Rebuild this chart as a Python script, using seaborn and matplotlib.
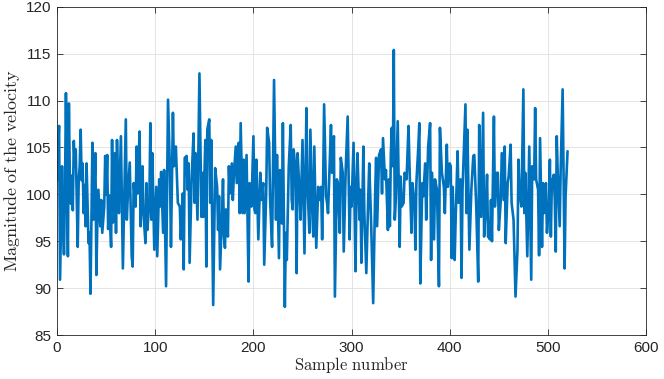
import matplotlib
matplotlib.use("Agg")
import matplotlib.pyplot as plt
import seaborn as sns
import pandas as pd

sample_number = [
    0, 1, 2, 3, 5, 6, 7, 8, 9, 10, 11, 12, 13, 14, 15, 16, 17, 18, 19, 20,
    21, 22, 23, 24, 25, 26, 27, 28, 29, 30, 32, 33, 34, 36, 37, 39, 40, 41, 42, 44,
    45, 46, 48, 49, 50, 51, 52, 53, 55, 56, 57, 59, 60, 61,
    62, 63, 65, 67, 70, 71, 72, 74, 76, 77, 78, 80, 81, 82, 84, 85, 87, 88, 90, 91,
    92, 94, 95, 96, 97, 99, 101, 102, 104, 105, 106, 108, 109, 111, 113, 115, 116, 118,
    119, 121, 123, 125, 126, 128, 129, 130, 132,
    133, 134, 135, 137, 139, 140, 141, 143, 145, 147, 148, 149, 151, 152, 153, 155,
    156, 157, 159, 161, 163, 164, 165, 166, 168, 169, 170, 171, 172, 174, 175, 176,
    178, 179, 180, 182, 183, 185, 186, 187, 189, 190, 191, 193, 195, 196, 198, 200, 201,
    202, 203, 205, 207, 208, 210, 211, 213, 214, 216, 217, 219, 221, 223, 224, 226,
    227, 229, 230, 232, 233, 234, 236, 238, 239, 240, 241, 243, 244, 245, 247, 248,
    250, 252, 254, 255, 257, 258, 260, 261, 262, 264, 266, 267, 269, 270,
    271, 272, 274, 275, 276, 279, 280, 282, 283, 285, 286, 288, 289, 291, 292, 294,
    296, 298, 299, 300, 302, 304, 305, 306, 308, 309, 310, 312, 313, 315, 317, 318,
    320, 322, 324, 325, 326, 328, 330, 331, 332, 334, 335, 337, 338,
    339, 340, 341, 342, 343, 344, 345, 347, 349, 350, 351, 353, 354, 356, 358, 359,
    361, 362, 364, 365, 366, 368, 369, 370, 372, 373, 375, 376, 378, 380, 381, 382,
    384, 385, 387, 389, 390, 392, 394, 395, 397, 398, 400, 401, 402, 403, 405, 406, 408,
    409, 411, 412, 413, 416, 417, 418, 420, 422, 424, 425, 427, 429, 430, 432, 434,
    435, 437, 438, 439, 441, 442, 443, 445, 446, 448, 449, 450, 452, 453, 455, 456,
    457, 459, 460, 462, 463, 465, 467, 469, 470, 471, 473, 475,
    476, 477, 479, 481, 483, 484, 486, 487, 488, 490, 491, 492, 494, 495, 496, 498,
    499, 501, 502, 503, 504, 506, 507, 508, 509, 510, 512, 513, 515, 516, 517, 518, 520,
]

velocity = [
    101.5, 105.0, 107.3, 90.9, 103.0, 97.0, 93.6, 100.0, 110.8, 101.0, 93.4, 109.7, 101.5, 99.0, 102.0, 98.3, 105.7, 103.0, 104.8, 99.5,
    94.4, 101.5, 103.0, 106.9, 101.5, 103.3, 98.0, 101.0, 96.6, 103.3, 94.8, 95.9, 89.4, 105.5, 97.3, 104.4, 91.4, 97.0, 100.5, 96.6,
    99.4, 95.9, 98.7, 104.1, 100.0, 104.2, 96.3, 99.9, 94.4, 105.8, 97.0, 104.4, 95.9, 105.8,
    101.6, 98.0, 106.2, 92.1, 108.0, 97.3, 99.8, 103.4, 93.4, 92.3, 101.2, 98.7, 105.1, 100.1, 106.7, 96.6, 103.0, 98.0, 94.8, 101.2,
    96.2, 99.4, 107.6, 97.3, 104.4, 94.1, 100.8, 93.4, 101.6, 98.7, 102.4, 95.9, 102.6, 90.2, 110.1, 102.3, 94.4, 108.7,
    103.0, 105.1, 99.1, 98.7, 95.2, 100.1, 92.0, 103.9, 104.1,
    100.5, 103.3, 92.7, 101.6, 106.5, 99.1, 104.4, 97.3, 112.9, 97.6, 102.3, 97.6, 105.8, 92.3, 106.9, 108.0,
    99.1, 105.8, 88.2, 102.8, 100.8, 96.2, 99.8, 92.0, 98.0, 101.6, 95.5, 94.3, 98.4, 95.5, 103.0, 100.1,
    103.3, 99.4, 101.9, 105.1, 101.2, 105.5, 98.0, 107.6, 98.0, 103.7, 98.0, 104.2, 90.7, 101.2, 98.7, 106.2, 98.4,
    98.0, 103.7, 95.2, 102.3, 99.4, 101.2, 92.5, 100.1, 107.1, 105.5, 99.4, 94.4, 112.2, 97.3, 104.2, 93.2,
    102.6, 96.9, 107.6, 88.0, 95.9, 93.0, 103.0, 107.4, 99.4, 98.4, 104.8, 102.3, 91.6, 104.4, 100.1, 97.3,
    105.8, 93.7, 109.2, 101.2, 95.9, 106.9, 98.0, 95.5, 105.1, 94.3, 100.8, 99.4, 100.8, 95.2,
    101.0, 109.6, 99.8, 99.1, 98.0, 107.4, 102.3, 106.2, 89.1, 101.6, 101.2, 95.9, 103.9, 102.3, 93.9, 102.6,
    108.3, 95.2, 100.8, 98.7, 105.5, 91.8, 100.8, 104.4, 97.3, 100.5, 92.7, 105.1, 98.0, 91.6, 99.8, 103.3,
    96.6, 88.4, 100.1, 103.9, 96.6, 104.2, 104.8, 100.1, 106.0, 101.6, 102.6, 96.2, 101.6,
    96.6, 104.4, 107.1, 103.0, 115.4, 97.3, 99.4, 107.8, 94.4, 101.9, 98.7, 99.1, 102.3, 101.6, 107.3, 103.0,
    95.9, 101.2, 99.1, 94.1, 101.2, 105.1, 107.6, 90.5, 101.2, 99.8, 103.3, 97.3, 105.1, 107.6, 93.0, 102.3,
    95.2, 101.6, 100.5, 90.2, 107.1, 102.3, 100.8, 98.0, 105.3, 100.8, 103.3, 103.0, 93.2, 100.8, 93.0, 97.3, 104.6,
    99.1, 101.6, 91.1, 100.5, 109.6, 98.0, 106.9, 94.1, 100.5, 104.1, 104.2, 98.7, 90.7, 107.4, 97.6, 108.7,
    95.5, 99.4, 102.1, 95.5, 95.2, 99.4, 95.0, 108.3, 98.7, 102.3, 102.3, 96.2, 99.4, 104.4, 99.4, 105.1,
    94.8, 101.2, 101.9, 105.3, 99.1, 97.3, 89.1, 94.1, 103.7, 100.5, 98.7, 111.2,
    98.0, 102.3, 93.4, 105.1, 90.9, 103.0, 101.6, 109.2, 101.6, 100.5, 93.5, 106.0, 94.4, 101.2, 98.0, 101.2,
    95.9, 98.7, 103.7, 95.5, 101.2, 102.1, 99.4, 93.9, 106.2, 102.3, 96.6, 102.6, 111.2, 101.2, 92.1, 99.8, 104.6,
]

x_ticks = [0, 100, 200, 300, 400, 500, 600]
y_ticks = [85, 90, 95, 100, 105, 110, 115, 120]

df = pd.DataFrame({"sample": sample_number, "velocity": velocity})

sns.set_style("ticks")
plt.rcParams["font.family"] = ["Liberation Sans", "DejaVu Sans"]
plt.rcParams["mathtext.fontset"] = "cm"

fig = plt.figure(figsize=(6.64, 3.79), dpi=100)
ax = fig.add_axes([0.086, 0.116, 0.887, 0.866])

sns.lineplot(data=df, x="sample", y="velocity", ax=ax, color="#0072BD",
             linewidth=1.9, estimator=None, sort=False)

ax.set_xlim(0, 600)
ax.set_ylim(85, 120)
ax.set_xticks(x_ticks)
ax.set_yticks(y_ticks)
ax.set_xticklabels([str(t) for t in x_ticks], fontsize=11, color="#262626")
ax.set_yticklabels([str(t) for t in y_ticks], fontsize=11, color="#262626")

ax.grid(True, color="#DFDFDF", linewidth=0.6)
ax.set_axisbelow(True)
for s in ax.spines.values():
    s.set_visible(True)
    s.set_color("#262626")
    s.set_linewidth(0.6)
ax.tick_params(direction="in", length=4, width=0.6, color="#262626",
               top=True, right=True, pad=4)

ax.set_xlabel(r"$\mathrm{Sample\ number}$", fontsize=12, color="#262626", labelpad=0)
ax.set_ylabel(r"$\mathrm{Magnitude\ of\ the\ velocity}$", fontsize=13, color="#262626", labelpad=3)

fig.savefig("out.png", dpi=100)
